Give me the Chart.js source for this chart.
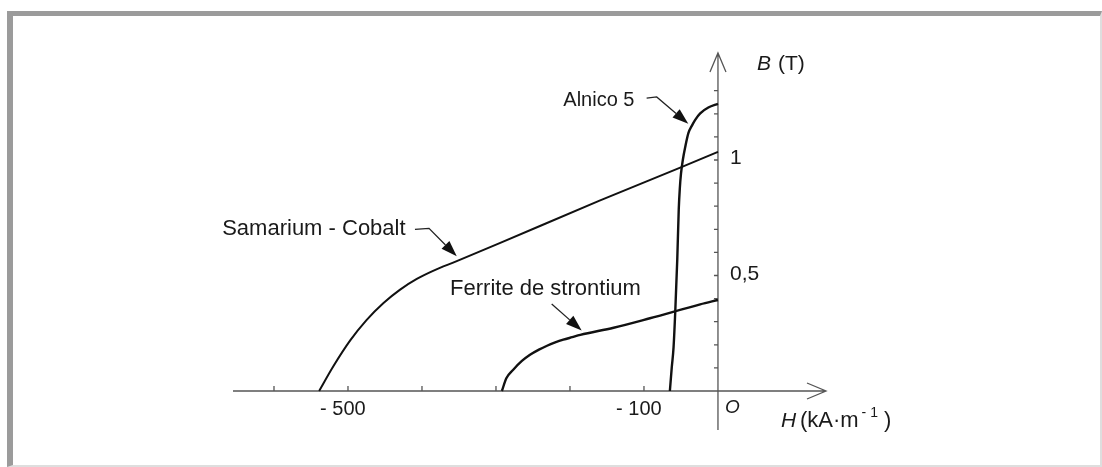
<!DOCTYPE html>
<html><head><meta charset="utf-8">
<script src="https://cdn.jsdelivr.net/npm/chart.js@4/dist/chart.umd.min.js"></script>
<style>
html,body{margin:0;padding:0;background:#fff;}
#wrap{position:relative;width:1102px;height:467px;overflow:hidden;background:#fff;}
#frame{position:absolute;left:7px;top:11px;right:0;bottom:0;border-top:5px solid #9b9b9b;border-left:6px solid #9b9b9b;border-right:2px solid #dedede;border-bottom:2px solid #dedede;box-sizing:border-box;}
canvas{position:absolute;left:0;top:0;}
</style></head><body>
<div id="wrap"><div id="frame"></div><canvas id="c" width="1102" height="467"></canvas></div>
<script>
// ---- Data (H in kA/m, B in T) ----
const samariumH = [-539, -520, -497, -475, -452, -430, -407, -385, -353, -295, -160, -51, 0];
const samariumB = [0, 0.106, 0.219, 0.307, 0.381, 0.438, 0.485, 0.52, 0.562, 0.64, 0.824, 0.967, 1.035];

const ferriteH = [-292, -286, -277, -265, -254, -242, -231, -220, -209, -197, -186, -141, -92, -24, 0];
const ferriteB = [0, 0.055, 0.091, 0.13, 0.157, 0.179, 0.196, 0.21, 0.222, 0.233, 0.243, 0.274, 0.315, 0.375, 0.394];

const alnicoH = [-65, -62.5, -60, -57.7, -55, -53, -51.5, -50, -47.5, -44, -40, -35, -31, -24, -13, 0];
const alnicoB = [0, 0.1, 0.19, 0.345, 0.57, 0.787, 0.88, 0.94, 1.0, 1.06, 1.116, 1.15, 1.173, 1.202, 1.227, 1.243];

const seriesNames = ['Samarium - Cobalt', 'Ferrite de strontium', 'Alnico 5'];

const xTickValues = [-600, -500, -400, -300, -200, -100];
const xTickLabels = ['', '- 500', '', '', '', '- 100'];
const yTickValues = [0.1, 0.2, 0.3, 0.4, 0.5, 0.6, 0.7, 0.8, 0.9, 1.0, 1.1, 1.2, 1.3];
const yTickLabels = ['', '', '', '', '0,5', '', '', '', '', '1', '', '', ''];

// ---- Layout / style ----
const FONT = '"Liberation Sans", Arial, sans-serif';
const TEXT = '#1a1a1a';
const AXIS = '#555';
const CURVE = '#111';

// annotation anchors expressed in data units
const annotations = [
  {name: seriesNames[0], size: 22, at: [-670, 0.674], path: [[-409.5, 0.70], [-390.5, 0.704], [-353, 0.583]]},
  {name: seriesNames[1], size: 22, at: [-362, 0.417], path: [[-224.7, 0.377], [-184.2, 0.262]]},
  {name: seriesNames[2], size: 20, at: [-209, 1.233], path: [[-96.4, 1.268], [-82.8, 1.273], [-40.1, 1.157]]}
];

const toPts = (hs, bs) => hs.map((h, i) => ({x: h, y: bs[i]}));

function arrowHead(ctx, fx, fy, tx, ty, len, hw) {
  const a = Math.atan2(ty - fy, tx - fx);
  const bx = tx - len * Math.cos(a), by = ty - len * Math.sin(a);
  ctx.beginPath();
  ctx.moveTo(tx, ty);
  ctx.lineTo(bx + hw * Math.sin(a), by - hw * Math.cos(a));
  ctx.lineTo(bx - hw * Math.sin(a), by + hw * Math.cos(a));
  ctx.closePath();
  ctx.fill();
  return [bx, by];
}

const axesPlugin = {
  id: 'bhAxes',
  beforeDatasetsDraw(chart) {
    const {ctx, chartArea: ca, scales: {x, y}} = chart;
    const x0 = x.getPixelForValue(0), y0 = y.getPixelForValue(0);
    ctx.save();
    ctx.strokeStyle = AXIS; ctx.lineWidth = 1.3;
    ctx.beginPath();
    ctx.moveTo(ca.left, y0); ctx.lineTo(ca.right, y0);
    ctx.moveTo(x0, ca.bottom); ctx.lineTo(x0, ca.top);
    // open arrows
    ctx.moveTo(ca.right - 19, y0 - 8); ctx.lineTo(ca.right, y0); ctx.lineTo(ca.right - 19, y0 + 8);
    ctx.moveTo(x0 - 8, ca.top + 19); ctx.lineTo(x0, ca.top); ctx.lineTo(x0 + 8, ca.top + 19);
    // ticks
    xTickValues.forEach(v => { const px = x.getPixelForValue(v); ctx.moveTo(px, y0); ctx.lineTo(px, y0 - 5); });
    yTickValues.forEach(v => { const py = y.getPixelForValue(v); ctx.moveTo(x0, py); ctx.lineTo(x0 - 4, py); });
    ctx.stroke();
    ctx.restore();
  },
  afterDatasetsDraw(chart) {
    const {ctx, scales: {x, y}} = chart;
    const X = v => x.getPixelForValue(v), Y = v => y.getPixelForValue(v);
    const x0 = X(0), y0 = Y(0);
    ctx.save();
    ctx.fillStyle = TEXT;
    ctx.textBaseline = 'alphabetic';
    // x tick labels: number centred on tick
    ctx.font = '20px ' + FONT;
    xTickValues.forEach((v, i) => {
      const lab = xTickLabels[i]; if (!lab) return;
      const num = lab.replace(/^-\s*/, '');
      const w = ctx.measureText(lab).width, wn = ctx.measureText(num).width;
      ctx.textAlign = 'left';
      ctx.fillText(lab, X(v) + wn / 2 - w + 1, y0 + 24);
    });
    // y tick labels
    ctx.textAlign = 'left';
    ctx.textBaseline = 'middle';
    ctx.font = '21px ' + FONT;
    yTickValues.forEach((v, i) => {
      const lab = yTickLabels[i]; if (!lab) return;
      ctx.fillText(lab, x0 + 12, Y(v) - 1.5);
    });
    // origin
    ctx.textBaseline = 'alphabetic';
    ctx.font = 'italic 19px ' + FONT;
    ctx.fillText('O', x0 + 7, y0 + 22);
    // B (T)
    ctx.font = 'italic 21px ' + FONT;
    ctx.fillText('B', x0 + 39, y0 - 321);
    ctx.font = '21px ' + FONT;
    ctx.fillText('(T)', x0 + 60, y0 - 321);
    // H (kA·m-1)
    let hx = x0 + 63, hy = y0 + 36;
    ctx.font = 'italic 21px ' + FONT;
    ctx.fillText('H', hx, hy);
    hx += 19;
    ctx.font = '22px ' + FONT;
    ctx.fillText('(kA·m', hx, hy);
    hx += ctx.measureText('(kA·m').width + 3;
    ctx.font = '14px ' + FONT;
    ctx.fillText('- 1', hx, hy - 10);
    hx += ctx.measureText('- 1').width + 6;
    ctx.font = '22px ' + FONT;
    ctx.fillText(')', hx, hy);
    // annotations
    annotations.forEach(a => {
      ctx.font = a.size + 'px ' + FONT;
      ctx.fillStyle = TEXT;
      ctx.fillText(a.name, X(a.at[0]), Y(a.at[1]));
      const pts = a.path.map(p => [X(p[0]), Y(p[1])]);
      const n = pts.length;
      ctx.fillStyle = CURVE;
      const base = arrowHead(ctx, pts[n - 2][0], pts[n - 2][1], pts[n - 1][0], pts[n - 1][1], 16, 5.5);
      ctx.strokeStyle = '#222'; ctx.lineWidth = 1.3;
      ctx.beginPath();
      ctx.moveTo(pts[0][0], pts[0][1]);
      for (let i = 1; i < n - 1; i++) ctx.lineTo(pts[i][0], pts[i][1]);
      ctx.lineTo(base[0], base[1]);
      ctx.stroke();
    });
    ctx.restore();
  }
};

new Chart(document.getElementById('c'), {
  type: 'scatter',
  data: {
    datasets: [
      {label: seriesNames[0], data: toPts(samariumH, samariumB), borderWidth: 2},
      {label: seriesNames[1], data: toPts(ferriteH, ferriteB), borderWidth: 2.4},
      {label: seriesNames[2], data: toPts(alnicoH, alnicoB), borderWidth: 2.4}
    ].map(d => Object.assign(d, {showLine: true, pointRadius: 0, borderColor: CURVE, backgroundColor: CURVE, cubicInterpolationMode: 'monotone', fill: false}))
  },
  options: {
    responsive: false,
    animation: false,
    devicePixelRatio: 1,
    layout: {padding: {left: 233, right: 276, top: 53, bottom: 37}},
    plugins: {legend: {display: false}, tooltip: {enabled: false}},
    scales: {
      x: {type: 'linear', min: -655.4, max: 146, display: false},
      y: {type: 'linear', min: -0.1688, max: 1.4632, display: false}
    }
  },
  plugins: [axesPlugin]
});
</script>
</body></html>
